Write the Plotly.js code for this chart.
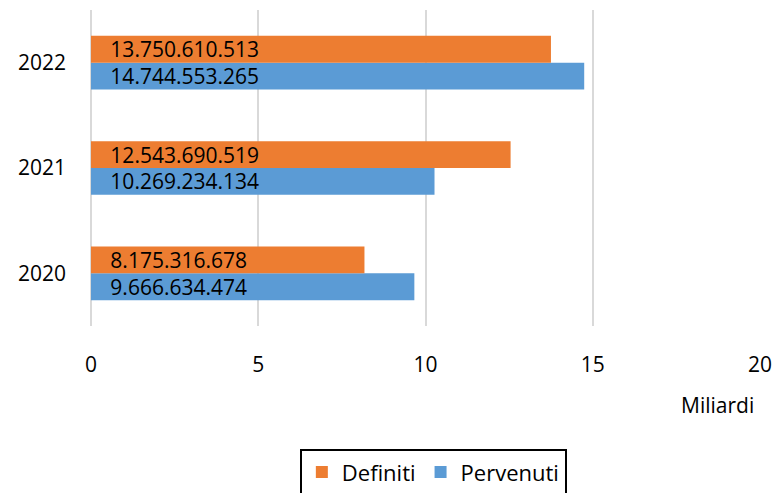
<!DOCTYPE html>
<html>
<head>
<meta charset="utf-8">
<script src="https://cdn.plot.ly/plotly-3.0.1.min.js"></script>
<style>html,body{margin:0;padding:0;background:#fff;}</style>
</head>
<body>
<div id="chart" style="width:778px;height:493px;"></div>
<script>
const years = ['2020', '2021', '2022'];
const definiti = [8175316678, 12543690519, 13750610513];
const pervenuti = [9666634474, 10269234134, 14744553265];
const xTicks = [0, 5, 10, 15, 20];
const unitLabel = 'Miliardi';

function fmt(v) {
  return '\u00a0\u00a0\u00a0' + String(v).replace(/\B(?=(\d{3})+(?!\d))/g, '.');
}
const FONT = 'Open Sans, Noto Sans, sans-serif';

const traces = [
  {
    type: 'bar', orientation: 'h', name: 'Pervenuti',
    y: years, x: pervenuti.map(v => v / 1e9),
    text: pervenuti.map(fmt), textposition: 'inside', insidetextanchor: 'start',
    textfont: {family: FONT, size: 21, color: '#000'},
    constraintext: 'none',
    marker: {color: '#5B9BD5'}, hoverinfo: 'none'
  },
  {
    type: 'bar', orientation: 'h', name: 'Definiti',
    y: years, x: definiti.map(v => v / 1e9),
    text: definiti.map(fmt), textposition: 'inside', insidetextanchor: 'start',
    textfont: {family: FONT, size: 21, color: '#000'},
    constraintext: 'none',
    marker: {color: '#ED7D31'}, hoverinfo: 'none'
  }
];

const layout = {
  width: 778, height: 493,
  margin: {l: 91, r: 18, t: 10, b: 167},
  barmode: 'group', bargap: 0.49, bargroupgap: 0,
  paper_bgcolor: '#fff', plot_bgcolor: '#fff',
  font: {family: FONT, size: 21, color: '#000'},
  xaxis: {
    range: [0, 20], tickvals: xTicks, ticktext: xTicks.map(String),
    showgrid: true, gridcolor: '#d9d9d9', gridwidth: 2,
    zeroline: true, zerolinecolor: '#d9d9d9', zerolinewidth: 2,
    showline: false, ticks: '', ticklen: 0,
    ticklabelstandoff: 24,
    tickfont: {family: FONT, size: 21, color: '#000'},
    automargin: false
  },
  yaxis: {
    type: 'category', categoryarray: years, categoryorder: 'array',
    showgrid: false, zeroline: false, showline: false, ticks: '',
    ticklabelstandoff: 24,
    tickfont: {family: FONT, size: 21, color: '#000'},
    automargin: false
  },
  showlegend: true,
  legend: {
    orientation: 'h', traceorder: 'reversed',
    xref: 'container', yref: 'container',
    x: 0.557, xanchor: 'center', y: 0.089, yanchor: 'top',
    bordercolor: '#000', borderwidth: 2,
    font: {family: FONT, size: 22, color: '#000'},
    itemwidth: 30
  },
  annotations: [{
    text: unitLabel, xref: 'paper', yref: 'paper',
    x: 0.936, y: -0.25, xanchor: 'center', yanchor: 'middle',
    showarrow: false, font: {family: FONT, size: 21, color: '#000'}
  }]
};

Plotly.newPlot('chart', traces, layout, {displayModeBar: false, staticPlot: true});
</script>
</body>
</html>
